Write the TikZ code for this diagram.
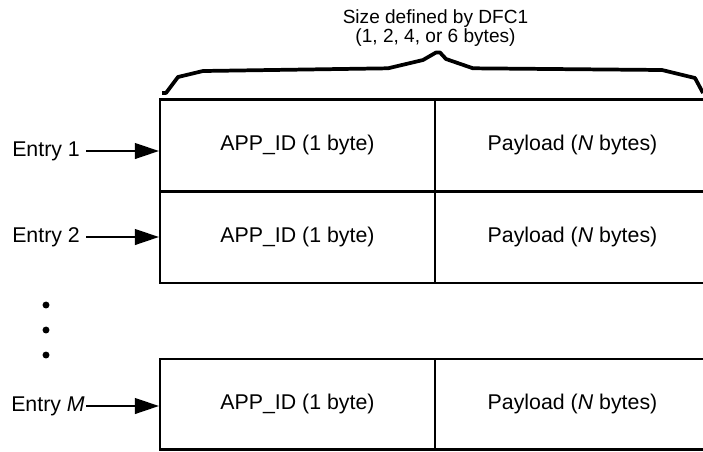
\documentclass[tikz,border=0pt]{standalone}
\usepackage{fontspec}
\setmainfont{Liberation Sans}
\usetikzlibrary{arrows.meta}
\begin{document}
\begin{tikzpicture}[x=0.75pt,y=-0.75pt,
  cell/.style={draw,line width=1.6pt,rectangle,inner sep=0pt,
    minimum width=206.25pt,font=\fontsize{16}{19}\selectfont,
    text height=0.716em,text depth=0pt},
  rowa/.style={cell,minimum height=69pt},
  rowb/.style={cell,minimum height=67.9pt},
  entry/.style={anchor=base west,inner sep=0pt,font=\fontsize{16}{19}\selectfont},
  ptr/.style={line width=1.5pt,-{Triangle[length=18pt,width=11.75pt]}},
  brace/.style={line width=2.8pt,line join=round},
  dot/.style={fill=black}]
\useasboundingbox (0,0) rectangle (703,451);
% title
\node[align=center,inner sep=0pt,font=\fontsize{14.3}{14.3}\selectfont] (title) at (435.5,28)
  {Size defined by DFC1\\(1, 2, 4, or 6 bytes)};
% brace
\draw[brace] (162,93) -- (166,93) -- (178,77) -- (203,71) -- (388,68.3) -- (423,60)
  -- (436,52.5) -- (440,52.5) -- (446,59) -- (473,68.3) -- (662,70) -- (695,78) -- (703,93);
% rows
\node[rowa] (app1) at (297.5,145.5) {APP\_ID (1 byte)};
\node[rowa] (pay1) at (572.5,145.5) {Payload (\textit{N} bytes)};
\node[rowa] (app2) at (297.5,237.25) {APP\_ID (1 byte)};
\node[rowa] (pay2) at (572.5,237.25) {Payload (\textit{N} bytes)};
\node[rowb] (app3) at (297.5,404.25) {APP\_ID (1 byte)};
\node[rowb] (pay3) at (572.5,404.25) {Payload (\textit{N} bytes)};
% entries
\node[entry] (e1) at (12,156) {Entry 1};
\node[entry] (e2) at (12,242) {Entry 2};
\node[entry] (e3) at (11,411) {Entry \textit{M}};
\coordinate (s1) at (86,151);
\coordinate (s2) at (86,237);
\coordinate (s3) at (86,406);
\draw[ptr] (s1) -- (s1 -| app1.west);
\draw[ptr] (s2) -- (s2 -| app2.west);
\draw[ptr] (s3) -- (s3 -| app3.west);
% dots
\fill[dot] (46,305) circle[radius=2.6pt];
\fill[dot] (46,330) circle[radius=2.6pt];
\fill[dot] (46,355) circle[radius=2.6pt];
\end{tikzpicture}
\end{document}
